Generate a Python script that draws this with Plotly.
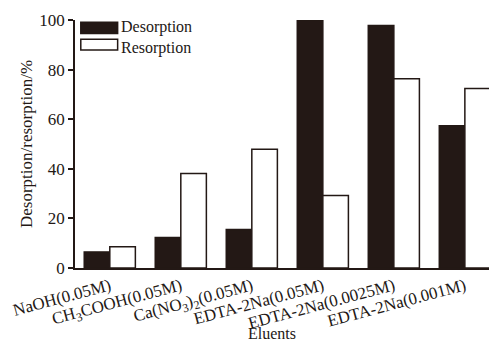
import plotly.graph_objects as go

categories = ["NaOH(0.05M)", "CH<sub>3</sub>COOH(0.05M)", "Ca(NO<sub>3</sub>)<sub>2</sub>(0.05M)",
              "EDTA-2Na(0.05M)", "EDTA-2Na(0.0025M)", "EDTA-2Na(0.001M)"]
desorption = [6.5, 12.3, 15.5, 100.0, 97.8, 57.4]
resorption = [8.6, 38.1, 47.9, 29.2, 76.3, 72.4]
series_names = ["Desorption", "Resorption"]
y_ticks = [0, 20, 40, 60, 80, 100]

dark = "#231815"
font = dict(family="Liberation Serif, Times New Roman, serif", size=17, color=dark)
small_font = dict(family="Liberation Serif, Times New Roman, serif", size=16, color=dark)
fills = [dark, "white"]

fig = go.Figure()
for name, vals, fill in zip(series_names, [desorption, resorption], fills):
    fig.add_trace(go.Bar(x=categories, y=vals, name=name, showlegend=False,
                         marker=dict(color=fill, line=dict(color=dark, width=1.5))))

# legend drawn as wide swatches like the original
legend_rows = [(0.946, 0.991, 0.972), (0.879, 0.922, 0.887)]
for (y0, y1, ty), name, fill in zip(legend_rows, series_names, fills):
    fig.add_shape(type="rect", xref="paper", yref="paper", x0=0.014, x1=0.103,
                  y0=y0, y1=y1, fillcolor=fill, line=dict(color=dark, width=1.5))
    fig.add_annotation(xref="paper", yref="paper", x=0.108, y=ty,
                       xanchor="left", yanchor="middle", text=name, showarrow=False,
                       font=small_font, borderpad=0)

fig.add_annotation(xref="paper", yref="paper", x=0.475, y=-0.262, text="Eluents",
                   showarrow=False, xanchor="center", yanchor="middle", font=small_font,
                   borderpad=0, height=16)

fig.update_layout(
    width=489, height=341,
    margin=dict(l=75, r=0, t=20, b=73),
    paper_bgcolor="white", plot_bgcolor="white",
    font=font,
    barmode="group", bargap=0.28, bargroupgap=0,
    showlegend=False,
)
fig.update_xaxes(
    range=[-0.49, 5.34], showline=True, linecolor=dark, linewidth=1.5,
    ticks="", tickangle=-15, tickfont=font, showgrid=False, automargin=False,
)
fig.update_yaxes(
    range=[0, 100], tickvals=y_ticks, showline=True, linecolor=dark, linewidth=1.5,
    ticks="outside", ticklen=5, tickcolor=dark, tickwidth=1.5, showgrid=False,
    zeroline=False, tickfont=font, automargin=False,
    title=dict(text="Desorption/resorption/%", font=font, standoff=2),
)
fig.write_html("out.html")
